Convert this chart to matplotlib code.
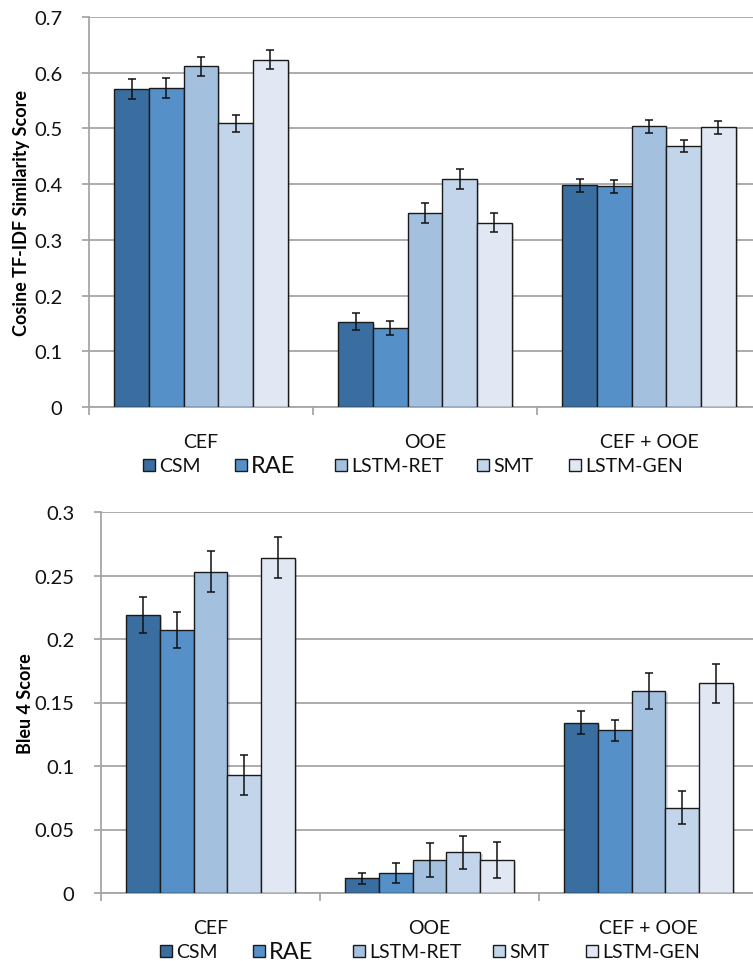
import matplotlib
matplotlib.use("Agg")
import matplotlib.pyplot as plt
import matplotlib.patheffects as pe
from matplotlib.patches import Rectangle
import numpy as np

plt.rcParams['font.family'] = ['Lato', 'DejaVu Sans']

groups = ["CEF", "OOE", "CEF + OOE"]
models = ["CSM", "RAE", "LSTM-RET", "SMT", "LSTM-GEN"]
colors = ["#3A6EA0", "#5591C8", "#A3C0DE", "#C3D5EA", "#E1E8F3"]

# Cosine TF-IDF similarity (rows: models, columns: groups)
cos_vals = [
    [0.571, 0.153, 0.398],
    [0.573, 0.142, 0.396],
    [0.612, 0.349, 0.504],
    [0.509, 0.409, 0.468],
    [0.623, 0.331, 0.502],
]
cos_err = [
    [0.018, 0.015, 0.012],
    [0.018, 0.013, 0.012],
    [0.017, 0.018, 0.012],
    [0.015, 0.018, 0.011],
    [0.017, 0.017, 0.012],
]

# Bleu 4
bleu_vals = [
    [0.219, 0.0115, 0.134],
    [0.207, 0.016, 0.128],
    [0.253, 0.026, 0.159],
    [0.093, 0.032, 0.067],
    [0.264, 0.026, 0.165],
]
bleu_err = [
    [0.014, 0.0045, 0.009],
    [0.014, 0.008, 0.008],
    [0.016, 0.0135, 0.014],
    [0.016, 0.013, 0.013],
    [0.016, 0.0145, 0.015],
]

W, H = 753, 962
fig = plt.figure(figsize=(W / 100, H / 100), dpi=100)

GRID = "#A6A6A6"


def px_axes(left, right, top, bottom):
    return fig.add_axes([left / W, 1 - bottom / H, (right - left) / W, (bottom - top) / H])


def draw_panel(ax, vals, errs, ymax, ystep, fmt, ylabel, label_x):
    x = np.arange(len(groups))
    bw = 0.155
    for i, m in enumerate(models):
        offs = (i - 2) * bw
        bars = ax.bar(x + offs, vals[i], width=bw, color=colors[i],
                      edgecolor="#1A1A1A", linewidth=1.0, zorder=3)
        for b in bars:
            b.set_path_effects([pe.SimplePatchShadow(offset=(1.5, -1.5), alpha=0.18),
                                pe.Normal()])
        ax.errorbar(x + offs, vals[i], yerr=errs[i], fmt="none",
                    ecolor="#111111", elinewidth=1.1, capsize=2.6,
                    capthick=1.1, zorder=4)
    ax.set_xlim(-0.5, len(groups) - 0.5)
    ax.set_ylim(0, ymax)
    ticks = np.arange(0, ymax + ystep / 2, ystep)
    ax.set_yticks(ticks)
    ax.set_yticklabels([fmt(t) for t in ticks])
    ax.grid(axis="y", color=GRID, linewidth=1.3, zorder=0)
    ax.set_axisbelow(True)
    for s in ["top", "right"]:
        ax.spines[s].set_visible(False)
    for s in ["left", "bottom"]:
        ax.spines[s].set_color(GRID)
        ax.spines[s].set_linewidth(1.3)
    ax.tick_params(axis="y", length=5, width=1.3, color=GRID, pad=14,
                   labelsize=14.5, labelcolor="#111111")
    ax.set_xticks(np.arange(0, len(groups)) - 0.5)
    ax.set_xticklabels([])
    ax.tick_params(axis="x", which="major", length=6, width=1.3, color=GRID)
    ax.set_xticks(x, minor=True)
    ax.set_xticklabels(groups, minor=True)
    ax.tick_params(axis="x", which="minor", length=0, pad=19,
                   labelsize=14, labelcolor="#111111")
    bb = ax.get_position()
    fig.text(label_x / W, bb.y0 + bb.height / 2, ylabel, rotation=90,
             ha="center", va="center", fontsize=13, fontweight="bold")


def draw_legend(xs, y):
    sizes = [14, 17, 14, 14, 14]
    sq = 12
    for i, m in enumerate(models):
        fig.patches.append(Rectangle(((xs[i]) / W, 1 - (y + sq / 2) / H), sq / W, sq / H,
                                     transform=fig.transFigure, facecolor=colors[i],
                                     edgecolor="#1A1A1A", linewidth=1.0))
        fig.text((xs[i] + sq + 4) / W, 1 - (y + 1) / H, m, ha="left", va="center",
                 fontsize=sizes[i], color="#111111")


ax1 = px_axes(89, 761, 18, 408)
draw_panel(ax1, cos_vals, cos_err, 0.7, 0.1,
           lambda t: "0" if t == 0 else f"{t:.1f}",
           "Cosine TF-IDF Similarity Score", 22)
draw_legend([143, 235, 335, 477, 569], 466)

ax2 = px_axes(101, 758, 513, 894)
draw_panel(ax2, bleu_vals, bleu_err, 0.3, 0.05,
           lambda t: "0" if t == 0 else f"{t:g}",
           "Bleu 4 Score", 26)
draw_legend([160, 253, 353, 493, 586], 952)

fig.savefig("out.png", dpi=100)
